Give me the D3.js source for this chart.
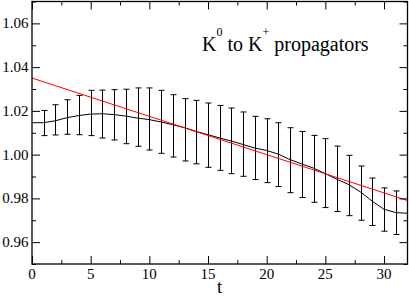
<!DOCTYPE html>
<html>
<head>
<meta charset="utf-8">
<script src="https://cdn.jsdelivr.net/npm/d3@7"></script>
<style>
  body { margin: 0; background: #fff; }
  svg { display: block; }
</style>
</head>
<body>
<svg id="chart" width="409" height="296"></svg>
<script>
// ---- data ----
const lineT = [0,1,2,3,4,5,6,7,8,9,10,11,12,13,14,15,16,17,18,19,20,21,22,23,24,25,26,27,28,29,30,31,32];
const lineValues = [1.0146,1.0146,1.0155,1.0169,1.0179,1.0185,1.0187,1.0183,1.0176,1.0167,1.0160,1.0149,1.0137,1.0123,1.0106,1.0091,1.0076,1.0062,1.0046,1.0030,1.0019,1.0002,0.9977,0.9957,0.9938,0.9913,0.9887,0.9863,0.9829,0.9787,0.9750,0.9735,0.9732];
const errT = [1,2,3,4,5,6,7,8,9,10,11,12,13,14,15,16,17,18,19,20,21,22,23,24,25,26,27,28,29,30,31];
const errUpper = [1.0202,1.0228,1.0251,1.0271,1.0294,1.0295,1.0297,1.0299,1.0305,1.0305,1.0294,1.0274,1.0256,1.0248,1.0236,1.0225,1.0213,1.0195,1.0175,1.0164,1.0146,1.0123,1.0106,1.0088,1.0073,1.0039,0.9997,0.9948,0.9893,0.9848,0.9834];
const errLower = [1.0087,1.0090,1.0093,1.0091,1.0087,1.0076,1.0067,1.0050,1.0038,1.0021,1.0006,0.9989,0.9971,0.9958,0.9942,0.9928,0.9913,0.9901,0.9886,0.9872,0.9854,0.9826,0.9804,0.9782,0.9758,0.9740,0.9721,0.9700,0.9676,0.9650,0.9635];
const fitT = [0, 32];
const fitValues = [1.035, 0.979];
const xTicks = [0,5,10,15,20,25,30];
const xMinorTicks = [2.5,7.5,12.5,17.5,22.5,27.5];
const yTicks = [0.96,0.98,1.00,1.02,1.04,1.06];
const yMinorTicks = [0.95,0.97,0.99,1.01,1.03,1.05,1.07];
const xLabel = "t";

// ---- layout ----
const L = 32, R = 407.5, T = 1.5, B = 264;
const svg = d3.select("#chart");
const x = d3.scaleLinear().domain([0, 32]).range([L, R]);
const y = d3.scaleLinear().domain([0.95, 1.07]).range([B, T]);

// ---- texts first (plain text elements, serif font) ----
const txt = svg.append("g").attr("id", "texts");

// title
const title = txt.append("text").attr("x", 202).attr("y", 51)
  .attr("font-family", "Liberation Serif").attr("font-size", 20).attr("fill", "#000");
title.append("tspan").text("K");
title.append("tspan").attr("dy", -15).attr("font-size", 12).text("0");
title.append("tspan").attr("dy", 15).text(" to K");
title.append("tspan").attr("dy", -15).attr("font-size", 12).text("+");
title.append("tspan").attr("dy", 15).text(" propagators");

// x tick labels
xTicks.forEach(v => {
  txt.append("text").attr("x", x(v)).attr("y", 278.5)
    .attr("text-anchor", "middle")
    .attr("font-family", "Liberation Serif").attr("font-size", 15).attr("fill", "#000")
    .text(d3.format("d")(v));
});
// y tick labels
yTicks.forEach(v => {
  txt.append("text").attr("x", 28.5).attr("y", y(v) + 5)
    .attr("text-anchor", "end")
    .attr("font-family", "Liberation Serif").attr("font-size", 15).attr("fill", "#000")
    .text(d3.format(".2f")(v));
});
// x label
txt.append("text").attr("x", (L + R) / 2).attr("y", 293)
  .attr("text-anchor", "middle")
  .attr("font-family", "Liberation Serif").attr("font-size", 19).attr("fill", "#000")
  .text(xLabel);

// ---- plot ----
svg.append("defs").append("clipPath").attr("id", "clip")
  .append("rect").attr("x", L).attr("y", T).attr("width", R - L).attr("height", B - T);
const plot = svg.append("g").attr("clip-path", "url(#clip)");

// error bars
const cap = 3;
const eb = plot.append("g").attr("stroke", "#000").attr("stroke-width", 1).attr("fill", "none");
errT.forEach((t, i) => {
  const cx = Math.round(x(t)) + 0.5;
  const y1 = y(errUpper[i]), y2 = y(errLower[i]);
  eb.append("line").attr("x1", cx).attr("x2", cx).attr("y1", y1).attr("y2", y2);
  eb.append("line").attr("x1", cx - cap).attr("x2", cx + cap).attr("y1", y1).attr("y2", y1);
  eb.append("line").attr("x1", cx - cap).attr("x2", cx + cap).attr("y1", y2).attr("y2", y2);
});

// data line
plot.append("path")
  .datum(lineT.map((t, i) => [t, lineValues[i]]))
  .attr("fill", "none").attr("stroke", "#000").attr("stroke-width", 1)
  .attr("d", d3.line().x(d => x(d[0])).y(d => y(d[1])));

// fit line
plot.append("path")
  .datum(fitT.map((t, i) => [t, fitValues[i]]))
  .attr("fill", "none").attr("stroke", "#ff0000").attr("stroke-width", 1)
  .attr("d", d3.line().x(d => x(d[0])).y(d => y(d[1])));

// ---- ticks (lines only, via d3 axes) ----
function tickOnly(g) {
  g.select(".domain").remove();
  g.selectAll(".tick text").remove();
  g.selectAll(".tick line").attr("stroke", "#000").attr("stroke-width", 1);
}
svg.append("g").attr("transform", `translate(0,${B})`)
  .call(d3.axisBottom(x).tickValues(xTicks).tickSize(-8)).call(tickOnly);
svg.append("g").attr("transform", `translate(0,${B})`)
  .call(d3.axisBottom(x).tickValues(xMinorTicks).tickSize(-4)).call(tickOnly);
svg.append("g").attr("transform", `translate(0,${T})`)
  .call(d3.axisTop(x).tickValues(xTicks).tickSize(-8)).call(tickOnly);
svg.append("g").attr("transform", `translate(0,${T})`)
  .call(d3.axisTop(x).tickValues(xMinorTicks).tickSize(-4)).call(tickOnly);
svg.append("g").attr("transform", `translate(${L},0)`)
  .call(d3.axisLeft(y).tickValues(yTicks).tickSize(-8)).call(tickOnly);
svg.append("g").attr("transform", `translate(${L},0)`)
  .call(d3.axisLeft(y).tickValues(yMinorTicks).tickSize(-4)).call(tickOnly);
svg.append("g").attr("transform", `translate(${R},0)`)
  .call(d3.axisRight(y).tickValues(yTicks).tickSize(-8)).call(tickOnly);
svg.append("g").attr("transform", `translate(${R},0)`)
  .call(d3.axisRight(y).tickValues(yMinorTicks).tickSize(-4)).call(tickOnly);

// frame
svg.append("rect").attr("x", L).attr("y", T).attr("width", R - L).attr("height", B - T)
  .attr("fill", "none").attr("stroke", "#000").attr("stroke-width", 1.3);
</script>
</body>
</html>
